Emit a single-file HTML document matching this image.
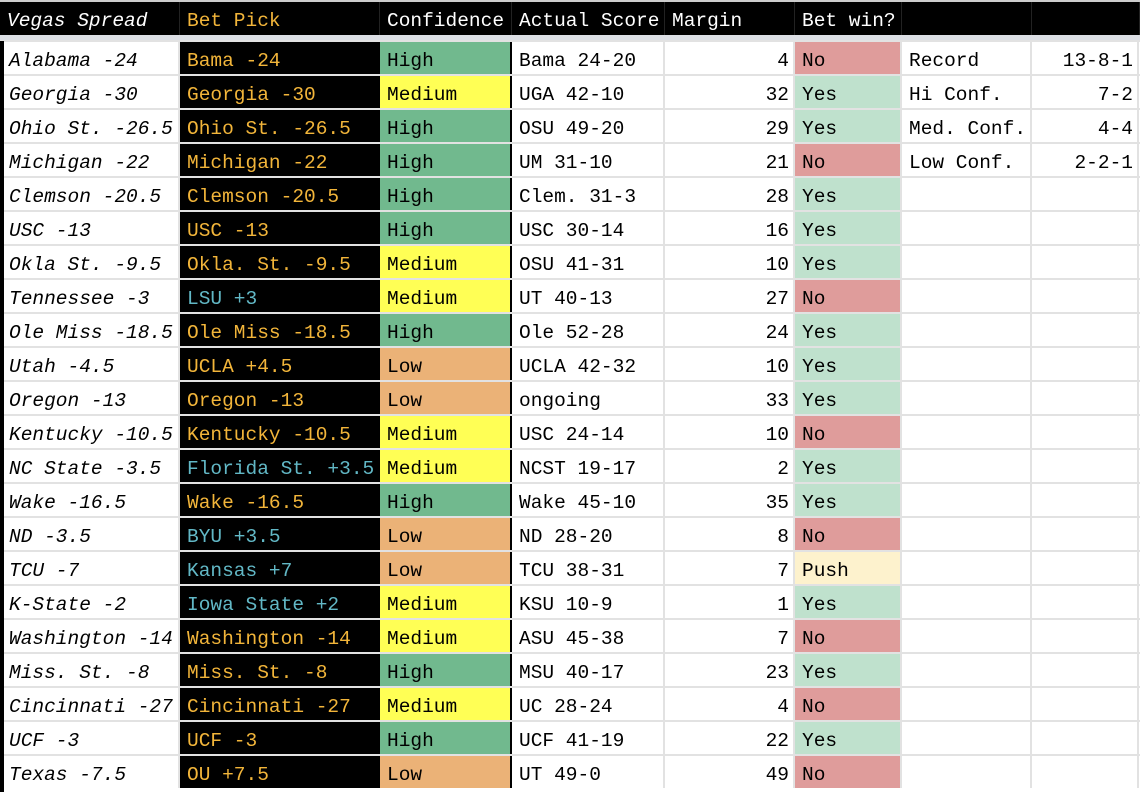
<!DOCTYPE html>
<html><head><meta charset="utf-8"><style>
*{margin:0;padding:0;box-sizing:border-box}
body{width:1140px;height:792px;background:#fff;position:relative;overflow:hidden;font-family:"Liberation Mono","DejaVu Sans Mono",monospace;font-size:19.5px}
.hd{position:absolute;left:0;top:0;width:1140px;height:35px;background:#000;border-top:2px solid #ccc}
.band{position:absolute;left:0;top:35px;width:1140px;height:6px;background:#dcdfe5}
.h{position:absolute;top:2px;height:33px;line-height:39px;color:#fff;border-right:1px solid #222;padding-left:7px;white-space:nowrap;overflow:hidden}
.r{position:absolute;left:0;width:1140px;height:34px;border-top:2px solid #e2e2e2}
.c{position:absolute;top:0;height:32px;line-height:38px;padding-left:7px;white-space:nowrap;border-right:2px solid #e2e2e2;color:#000}
.a{left:4px;width:176px;font-style:italic;padding-left:5px}
.b{left:180px;width:200px;background:#000;color:#f2b53a;border-right:none}
.b.bl{color:#62b8c6}
.cf{left:380px;width:132px;border-right:2px solid #000}
.d{left:512px;width:153px}
.e{left:665px;width:130px;text-align:right;padding-right:4px}
.f{left:795px;width:107px}
.g{left:902px;width:130px}
.k{left:1032px;width:107px;text-align:right;padding-right:4px}
.H{background:#71b98e}.M{background:#ffff55}.L{background:#ebb277}
.N{background:#df9c9b}.Y{background:#bfe1cd}.P{background:#fdf2cd}
.lb{position:absolute;left:0;top:41px;width:4px;height:751px;background:#000}
</style></head><body>
<div class="hd"></div><div class="band"></div>
<div class="h" style="left:0;width:180px;font-style:italic">Vegas Spread</div>
<div class="h" style="left:180px;width:200px;color:#f2b53a">Bet Pick</div>
<div class="h" style="left:380px;width:132px">Confidence</div>
<div class="h" style="left:512px;width:153px">Actual Score</div>
<div class="h" style="left:665px;width:130px">Margin</div>
<div class="h" style="left:795px;width:107px">Bet win?</div>
<div class="h" style="left:902px;width:130px"></div>
<div class="h" style="left:1032px;width:108px"></div>
<div id="rows"></div>
<div class="lb"></div>
<script>
var d=[
["Alabama -24","Bama -24",0,"H","Bama 24-20",4,"N","Record","13-8-1"],
["Georgia -30","Georgia -30",0,"M","UGA 42-10",32,"Y","Hi Conf.","7-2"],
["Ohio St. -26.5","Ohio St. -26.5",0,"H","OSU 49-20",29,"Y","Med. Conf.","4-4"],
["Michigan -22","Michigan -22",0,"H","UM 31-10",21,"N","Low Conf.","2-2-1"],
["Clemson -20.5","Clemson -20.5",0,"H","Clem. 31-3",28,"Y"],
["USC -13","USC -13",0,"H","USC 30-14",16,"Y"],
["Okla St. -9.5","Okla. St. -9.5",0,"M","OSU 41-31",10,"Y"],
["Tennessee -3","LSU +3",1,"M","UT 40-13",27,"N"],
["Ole Miss -18.5","Ole Miss -18.5",0,"H","Ole 52-28",24,"Y"],
["Utah -4.5","UCLA +4.5",0,"L","UCLA 42-32",10,"Y"],
["Oregon -13","Oregon -13",0,"L","ongoing",33,"Y"],
["Kentucky -10.5","Kentucky -10.5",0,"M","USC 24-14",10,"N"],
["NC State -3.5","Florida St. +3.5",1,"M","NCST 19-17",2,"Y"],
["Wake -16.5","Wake -16.5",0,"H","Wake 45-10",35,"Y"],
["ND -3.5","BYU +3.5",1,"L","ND 28-20",8,"N"],
["TCU -7","Kansas +7",1,"L","TCU 38-31",7,"P"],
["K-State -2","Iowa State +2",1,"M","KSU 10-9",1,"Y"],
["Washington -14","Washington -14",0,"M","ASU 45-38",7,"N"],
["Miss. St. -8","Miss. St. -8",0,"H","MSU 40-17",23,"Y"],
["Cincinnati -27","Cincinnati -27",0,"M","UC 28-24",4,"N"],
["UCF -3","UCF -3",0,"H","UCF 41-19",22,"Y"],
["Texas -7.5","OU +7.5",0,"L","UT 49-0",49,"N"]];
var conf={H:"High",M:"Medium",L:"Low"},w={N:"No",Y:"Yes",P:"Push"};
var h="";
d.forEach(function(r,i){
h+='<div class="r" style="top:'+(40+34*i)+'px">'+
'<div class="c a">'+r[0]+'</div>'+
'<div class="c b'+(r[2]?' bl':'')+'">'+r[1]+'</div>'+
'<div class="c cf '+r[3]+'">'+conf[r[3]]+'</div>'+
'<div class="c d">'+r[4]+'</div>'+
'<div class="c e">'+r[5]+'</div>'+
'<div class="c f '+r[6]+'">'+w[r[6]]+'</div>'+
'<div class="c g">'+(r[7]||"")+'</div>'+
'<div class="c k">'+(r[8]||"")+'</div></div>';});
document.getElementById("rows").innerHTML=h;
</script>
</body></html>
